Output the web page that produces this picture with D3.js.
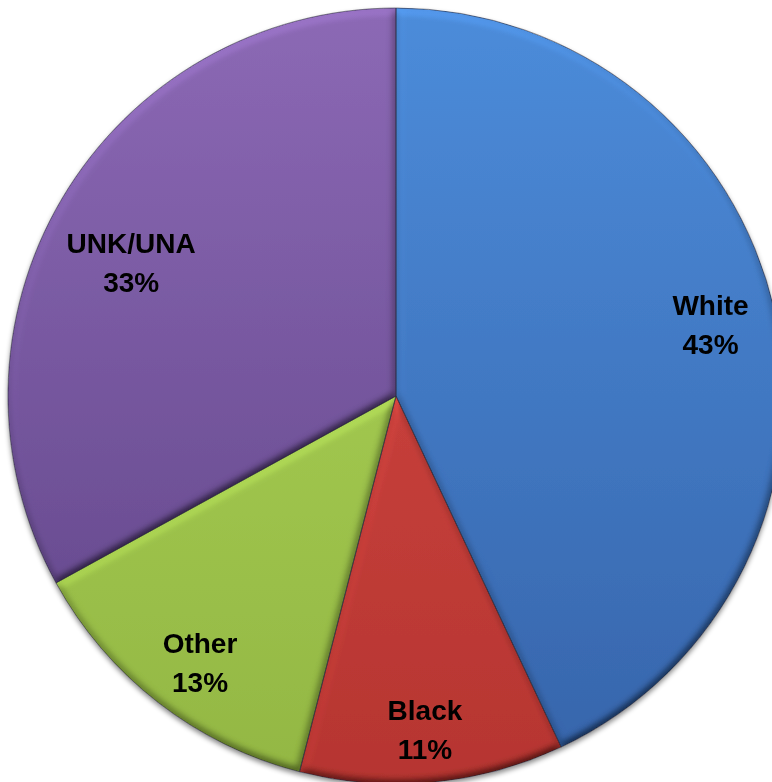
<!DOCTYPE html>
<html>
<head>
<meta charset="utf-8">
<script src="https://cdn.jsdelivr.net/npm/d3@7"></script>
<style>
  html, body { margin: 0; padding: 0; background: #fff; }
  svg { display: block; }
</style>
</head>
<body>
<svg id="chart" width="772" height="782"></svg>
<script>
// Race breakdown
const categories = ["White", "Black", "Other", "UNK/UNA"];
const shares = [43, 11, 13, 33];
const pctLabels = ["43%", "11%", "13%", "33%"];

// Fill colours per slice: [lighter top, darker bottom]
const sliceColors = [
  ["#4c8cda", "#3664aa"],
  ["#d64a44", "#b63531"],
  ["#aed65a", "#93b743"],
  ["#8c69b5", "#5e4386"]
];

const W = 772, H = 782;
const cx = 396, cy = 396, R = 388;

const svg = d3.select("#chart");
const defs = svg.append("defs");

sliceColors.forEach((c, i) => {
  const g = defs.append("linearGradient")
    .attr("id", "grad" + i)
    .attr("gradientUnits", "userSpaceOnUse")
    .attr("x1", 0).attr("y1", -R)
    .attr("x2", 0).attr("y2", R);
  g.append("stop").attr("offset", "0%").attr("stop-color", c[0]);
  g.append("stop").attr("offset", "100%").attr("stop-color", c[1]);
});

// soft shadow under the pie
const sh = defs.append("filter").attr("id", "shadow")
  .attr("x", "-10%").attr("y", "-10%").attr("width", "120%").attr("height", "120%");
sh.append("feDropShadow").attr("dx", 0).attr("dy", 3).attr("stdDeviation", 2.5)
  .attr("flood-color", "#000").attr("flood-opacity", 0.45);

// bevel-like edge shading inside each slice
const bev = defs.append("filter").attr("id", "bevel")
  .attr("x", "-5%").attr("y", "-5%").attr("width", "110%").attr("height", "110%");
bev.append("feGaussianBlur").attr("in", "SourceAlpha").attr("stdDeviation", 4).attr("result", "blur");
const dl = bev.append("feDiffuseLighting").attr("in", "blur").attr("surfaceScale", 5)
  .attr("diffuseConstant", 1).attr("lighting-color", "#fff").attr("result", "light");
dl.append("feDistantLight").attr("azimuth", 250).attr("elevation", 55);
bev.append("feComposite").attr("in", "light").attr("in2", "SourceAlpha").attr("operator", "in").attr("result", "lightIn");
bev.append("feComposite").attr("in", "SourceGraphic").attr("in2", "lightIn")
  .attr("operator", "arithmetic").attr("k1", 1.22).attr("k2", 0).attr("k3", 0).attr("k4", 0);

const pie = d3.pie().sort(null).value(d => d)(shares);
const arc = d3.arc().innerRadius(0).outerRadius(R);

const g = svg.append("g").attr("transform", `translate(${cx},${cy})`);

const pieGroup = g.append("g").attr("filter", "url(#shadow)");
pieGroup.selectAll("path.slice")
  .data(pie)
  .join("path")
  .attr("class", "slice")
  .attr("d", arc)
  .attr("fill", (d, i) => `url(#grad${i})`)
  .attr("filter", "url(#bevel)");

// dark seams between slices
pieGroup.selectAll("path.seam")
  .data(pie)
  .join("path")
  .attr("class", "seam")
  .attr("d", arc)
  .attr("fill", "none")
  .attr("stroke", "#2a2a3a")
  .attr("stroke-opacity", 0.55)
  .attr("stroke-width", 1);

// label placement: centroid at 0.82 R plus a small per-slice nudge
const labelR = 0.82 * R;
const labelNudge = [[4, -2], [-1, 17], [-1, 15], [9, 28]];

const labels = g.selectAll("text.lbl")
  .data(pie)
  .join("text")
  .attr("class", "lbl")
  .attr("text-anchor", "middle")
  .attr("font-family", "'Liberation Sans', Arial, sans-serif")
  .attr("font-weight", "bold")
  .attr("font-size", 28)
  .attr("fill", "#000")
  .attr("transform", (d, i) => {
    const a = (d.startAngle + d.endAngle) / 2;
    const x = Math.sin(a) * labelR + labelNudge[i][0];
    const y = -Math.cos(a) * labelR + labelNudge[i][1];
    return `translate(${x},${y})`;
  });

labels.append("tspan").attr("x", 0).attr("y", -9.5).text((d, i) => categories[i]);
labels.append("tspan").attr("x", 0).attr("y", 29.5).text((d, i) => pctLabels[i]);
</script>
</body>
</html>
